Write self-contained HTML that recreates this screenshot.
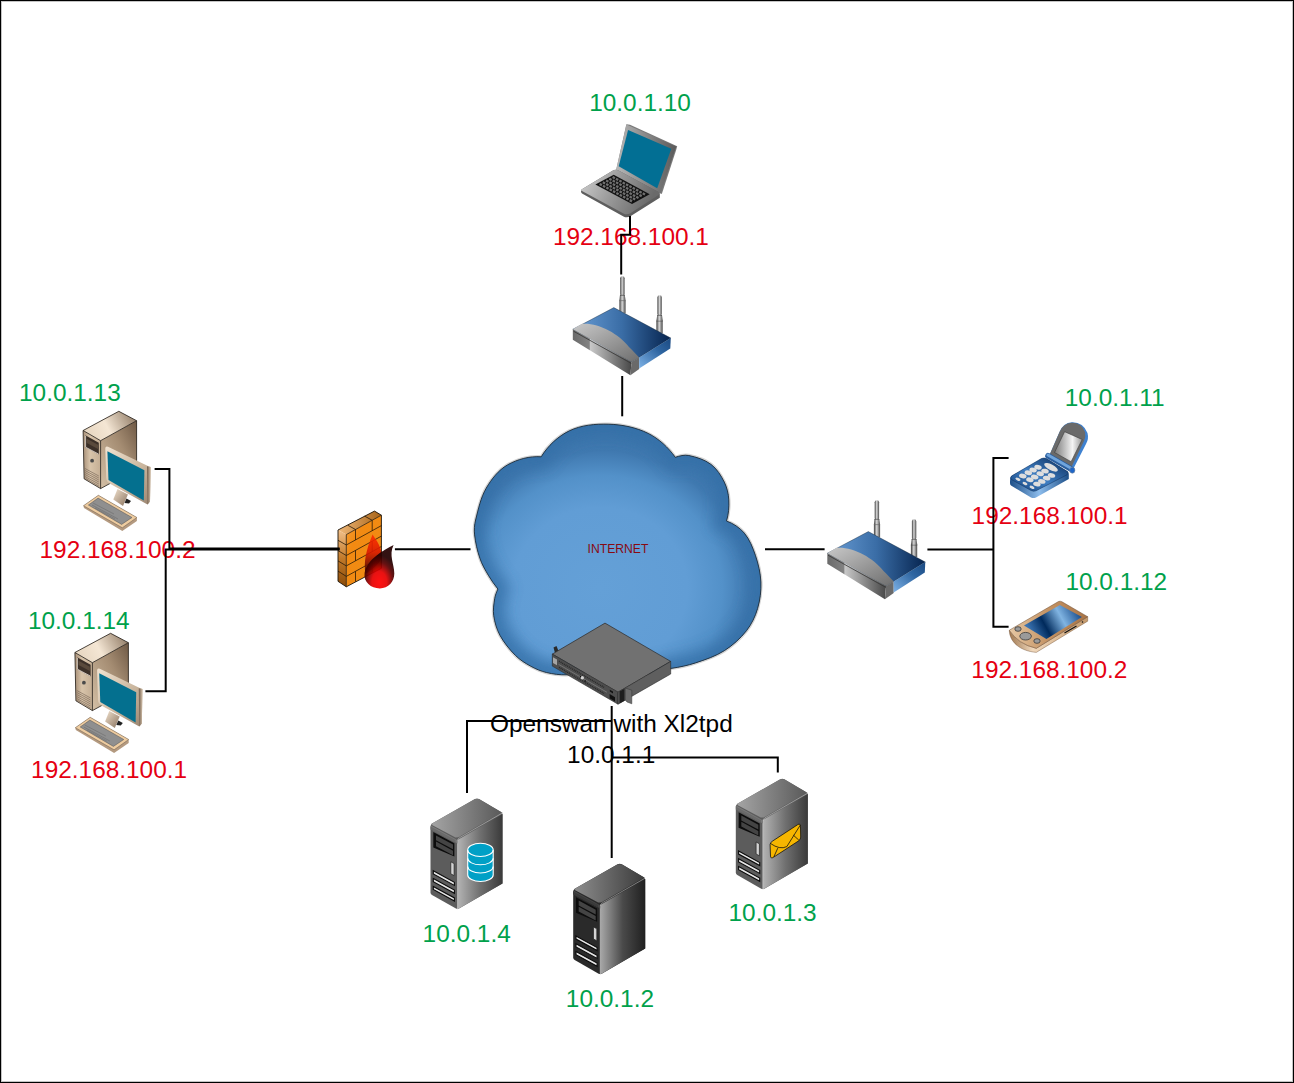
<!DOCTYPE html>
<html><head><meta charset="utf-8">
<style>
html,body{margin:0;padding:0;background:#fff;}
body{width:1294px;height:1083px;overflow:hidden;position:relative;}
#frame{position:absolute;left:0;top:0;width:1294px;height:1083px;box-sizing:border-box;border:1px solid #000;box-shadow:inset 0 0 0 1px #c4c4c4;}
svg{position:absolute;left:0;top:0;}
text{font-family:"Liberation Sans",sans-serif;}
.g{fill:#00a14b;font-size:24.4px;}
.r{fill:#e50012;font-size:24.4px;}
.k{fill:#000;font-size:24.4px;}
</style></head><body>
<svg width="1294" height="1083" viewBox="0 0 1294 1083">
<defs>
<clipPath id="cloudclip"><path d="M541.2,456.8 C547.8,445.9 557.9,436.4 569.4,430.8 C581.4,425.0 595.5,423.8 608.8,424.2 C622.3,424.6 636.1,427.4 648.2,433.4 C659.0,438.8 668.3,447.5 675.3,457.3 C679.6,455.9 684.3,454.6 688.8,455.5 C696.6,457.1 704.6,459.6 711.0,464.4 C716.9,468.8 721.0,475.5 724.3,482.1 C727.0,487.6 728.5,493.8 728.8,499.9 C729.2,507.0 728.6,514.2 726.5,521.0 C733.2,523.5 739.7,527.6 744.3,533.1 C749.6,539.4 752.7,547.5 755.4,555.3 C758.3,563.9 760.5,572.9 760.9,582.0 C761.3,590.9 760.1,600.0 757.6,608.5 C755.3,616.4 751.6,624.2 746.5,630.7 C740.3,638.5 732.7,645.4 724.3,650.7 C715.5,656.3 705.4,659.6 695.5,662.9 C687.6,665.5 679.4,667.2 671.1,668.4 C661.0,671.7 650.5,673.9 640.0,675.0 C630.1,676.1 620.0,675.8 610.0,675.0 C602.6,674.4 595.2,672.9 588.0,671.0 C581.1,673.3 573.8,674.5 566.5,674.8 C559.8,675.0 553.0,674.1 546.4,672.5 C541.0,671.2 535.8,669.0 530.9,666.3 C525.4,663.3 519.9,659.9 515.5,655.5 C509.5,649.5 504.1,642.8 500.0,635.4 C496.7,629.3 494.7,622.5 493.7,615.6 C492.9,610.0 493.8,604.2 494.7,598.6 C495.2,595.3 496.5,592.1 497.9,589.0 C494.4,584.6 491.1,580.0 488.3,575.2 C485.1,569.8 481.9,564.3 479.9,558.3 C477.3,550.7 475.5,542.8 474.6,534.9 C474.0,530.0 474.4,524.8 475.6,520.0 C478.3,509.2 480.6,497.9 486.2,488.2 C491.5,479.1 498.4,470.1 507.5,464.9 C517.5,459.2 529.7,455.9 541.2,456.8 Z"/></clipPath>
<filter id="blur12" x="-20%" y="-20%" width="140%" height="140%"><feGaussianBlur stdDeviation="7"/></filter>
</defs>
<!-- cloud -->
<g>
<defs>
<radialGradient id="cloudbase" gradientUnits="userSpaceOnUse" cx="600" cy="588" r="175" gradientTransform="translate(600 588) scale(1 0.92) translate(-600 -588)">
<stop offset="0" stop-color="#64a0d7"/><stop offset="0.5" stop-color="#619dd5"/><stop offset="0.7" stop-color="#5391c9"/><stop offset="0.85" stop-color="#4079b0"/><stop offset="1" stop-color="#3a74aa"/>
</radialGradient>
</defs>
<path d="M541.2,456.8 C547.8,445.9 557.9,436.4 569.4,430.8 C581.4,425.0 595.5,423.8 608.8,424.2 C622.3,424.6 636.1,427.4 648.2,433.4 C659.0,438.8 668.3,447.5 675.3,457.3 C679.6,455.9 684.3,454.6 688.8,455.5 C696.6,457.1 704.6,459.6 711.0,464.4 C716.9,468.8 721.0,475.5 724.3,482.1 C727.0,487.6 728.5,493.8 728.8,499.9 C729.2,507.0 728.6,514.2 726.5,521.0 C733.2,523.5 739.7,527.6 744.3,533.1 C749.6,539.4 752.7,547.5 755.4,555.3 C758.3,563.9 760.5,572.9 760.9,582.0 C761.3,590.9 760.1,600.0 757.6,608.5 C755.3,616.4 751.6,624.2 746.5,630.7 C740.3,638.5 732.7,645.4 724.3,650.7 C715.5,656.3 705.4,659.6 695.5,662.9 C687.6,665.5 679.4,667.2 671.1,668.4 C661.0,671.7 650.5,673.9 640.0,675.0 C630.1,676.1 620.0,675.8 610.0,675.0 C602.6,674.4 595.2,672.9 588.0,671.0 C581.1,673.3 573.8,674.5 566.5,674.8 C559.8,675.0 553.0,674.1 546.4,672.5 C541.0,671.2 535.8,669.0 530.9,666.3 C525.4,663.3 519.9,659.9 515.5,655.5 C509.5,649.5 504.1,642.8 500.0,635.4 C496.7,629.3 494.7,622.5 493.7,615.6 C492.9,610.0 493.8,604.2 494.7,598.6 C495.2,595.3 496.5,592.1 497.9,589.0 C494.4,584.6 491.1,580.0 488.3,575.2 C485.1,569.8 481.9,564.3 479.9,558.3 C477.3,550.7 475.5,542.8 474.6,534.9 C474.0,530.0 474.4,524.8 475.6,520.0 C478.3,509.2 480.6,497.9 486.2,488.2 C491.5,479.1 498.4,470.1 507.5,464.9 C517.5,459.2 529.7,455.9 541.2,456.8 Z" fill="none" stroke="#d4d4d4" stroke-width="3.4"/>
<path d="M541.2,456.8 C547.8,445.9 557.9,436.4 569.4,430.8 C581.4,425.0 595.5,423.8 608.8,424.2 C622.3,424.6 636.1,427.4 648.2,433.4 C659.0,438.8 668.3,447.5 675.3,457.3 C679.6,455.9 684.3,454.6 688.8,455.5 C696.6,457.1 704.6,459.6 711.0,464.4 C716.9,468.8 721.0,475.5 724.3,482.1 C727.0,487.6 728.5,493.8 728.8,499.9 C729.2,507.0 728.6,514.2 726.5,521.0 C733.2,523.5 739.7,527.6 744.3,533.1 C749.6,539.4 752.7,547.5 755.4,555.3 C758.3,563.9 760.5,572.9 760.9,582.0 C761.3,590.9 760.1,600.0 757.6,608.5 C755.3,616.4 751.6,624.2 746.5,630.7 C740.3,638.5 732.7,645.4 724.3,650.7 C715.5,656.3 705.4,659.6 695.5,662.9 C687.6,665.5 679.4,667.2 671.1,668.4 C661.0,671.7 650.5,673.9 640.0,675.0 C630.1,676.1 620.0,675.8 610.0,675.0 C602.6,674.4 595.2,672.9 588.0,671.0 C581.1,673.3 573.8,674.5 566.5,674.8 C559.8,675.0 553.0,674.1 546.4,672.5 C541.0,671.2 535.8,669.0 530.9,666.3 C525.4,663.3 519.9,659.9 515.5,655.5 C509.5,649.5 504.1,642.8 500.0,635.4 C496.7,629.3 494.7,622.5 493.7,615.6 C492.9,610.0 493.8,604.2 494.7,598.6 C495.2,595.3 496.5,592.1 497.9,589.0 C494.4,584.6 491.1,580.0 488.3,575.2 C485.1,569.8 481.9,564.3 479.9,558.3 C477.3,550.7 475.5,542.8 474.6,534.9 C474.0,530.0 474.4,524.8 475.6,520.0 C478.3,509.2 480.6,497.9 486.2,488.2 C491.5,479.1 498.4,470.1 507.5,464.9 C517.5,459.2 529.7,455.9 541.2,456.8 Z" fill="url(#cloudbase)"/>
<g clip-path="url(#cloudclip)">
<path d="M541.2,456.8 C547.8,445.9 557.9,436.4 569.4,430.8 C581.4,425.0 595.5,423.8 608.8,424.2 C622.3,424.6 636.1,427.4 648.2,433.4 C659.0,438.8 668.3,447.5 675.3,457.3 C679.6,455.9 684.3,454.6 688.8,455.5 C696.6,457.1 704.6,459.6 711.0,464.4 C716.9,468.8 721.0,475.5 724.3,482.1 C727.0,487.6 728.5,493.8 728.8,499.9 C729.2,507.0 728.6,514.2 726.5,521.0 C733.2,523.5 739.7,527.6 744.3,533.1 C749.6,539.4 752.7,547.5 755.4,555.3 C758.3,563.9 760.5,572.9 760.9,582.0 C761.3,590.9 760.1,600.0 757.6,608.5 C755.3,616.4 751.6,624.2 746.5,630.7 C740.3,638.5 732.7,645.4 724.3,650.7 C715.5,656.3 705.4,659.6 695.5,662.9 C687.6,665.5 679.4,667.2 671.1,668.4 C661.0,671.7 650.5,673.9 640.0,675.0 C630.1,676.1 620.0,675.8 610.0,675.0 C602.6,674.4 595.2,672.9 588.0,671.0 C581.1,673.3 573.8,674.5 566.5,674.8 C559.8,675.0 553.0,674.1 546.4,672.5 C541.0,671.2 535.8,669.0 530.9,666.3 C525.4,663.3 519.9,659.9 515.5,655.5 C509.5,649.5 504.1,642.8 500.0,635.4 C496.7,629.3 494.7,622.5 493.7,615.6 C492.9,610.0 493.8,604.2 494.7,598.6 C495.2,595.3 496.5,592.1 497.9,589.0 C494.4,584.6 491.1,580.0 488.3,575.2 C485.1,569.8 481.9,564.3 479.9,558.3 C477.3,550.7 475.5,542.8 474.6,534.9 C474.0,530.0 474.4,524.8 475.6,520.0 C478.3,509.2 480.6,497.9 486.2,488.2 C491.5,479.1 498.4,470.1 507.5,464.9 C517.5,459.2 529.7,455.9 541.2,456.8 Z" fill="none" stroke="#3570a7" stroke-width="22" filter="url(#blur12)" opacity="0.8"/>
</g>
<path d="M541.2,456.8 C547.8,445.9 557.9,436.4 569.4,430.8 C581.4,425.0 595.5,423.8 608.8,424.2 C622.3,424.6 636.1,427.4 648.2,433.4 C659.0,438.8 668.3,447.5 675.3,457.3 C679.6,455.9 684.3,454.6 688.8,455.5 C696.6,457.1 704.6,459.6 711.0,464.4 C716.9,468.8 721.0,475.5 724.3,482.1 C727.0,487.6 728.5,493.8 728.8,499.9 C729.2,507.0 728.6,514.2 726.5,521.0 C733.2,523.5 739.7,527.6 744.3,533.1 C749.6,539.4 752.7,547.5 755.4,555.3 C758.3,563.9 760.5,572.9 760.9,582.0 C761.3,590.9 760.1,600.0 757.6,608.5 C755.3,616.4 751.6,624.2 746.5,630.7 C740.3,638.5 732.7,645.4 724.3,650.7 C715.5,656.3 705.4,659.6 695.5,662.9 C687.6,665.5 679.4,667.2 671.1,668.4 C661.0,671.7 650.5,673.9 640.0,675.0 C630.1,676.1 620.0,675.8 610.0,675.0 C602.6,674.4 595.2,672.9 588.0,671.0 C581.1,673.3 573.8,674.5 566.5,674.8 C559.8,675.0 553.0,674.1 546.4,672.5 C541.0,671.2 535.8,669.0 530.9,666.3 C525.4,663.3 519.9,659.9 515.5,655.5 C509.5,649.5 504.1,642.8 500.0,635.4 C496.7,629.3 494.7,622.5 493.7,615.6 C492.9,610.0 493.8,604.2 494.7,598.6 C495.2,595.3 496.5,592.1 497.9,589.0 C494.4,584.6 491.1,580.0 488.3,575.2 C485.1,569.8 481.9,564.3 479.9,558.3 C477.3,550.7 475.5,542.8 474.6,534.9 C474.0,530.0 474.4,524.8 475.6,520.0 C478.3,509.2 480.6,497.9 486.2,488.2 C491.5,479.1 498.4,470.1 507.5,464.9 C517.5,459.2 529.7,455.9 541.2,456.8 Z" fill="none" stroke="#1d2b38" stroke-width="0.9"/>
</g>
<text x="587.5" y="553" style="font-size:12.2px;fill:#880a12">INTERNET</text>
<g id="icons">
<g id="laptop">
<defs>
<linearGradient id="lbase" x1="0" y1="0" x2="1" y2="0.3">
<stop offset="0" stop-color="#d2d2d2"/><stop offset="0.5" stop-color="#9a9a9a"/><stop offset="1" stop-color="#6a6a6a"/>
</linearGradient>
<linearGradient id="llid" x1="0" y1="0" x2="1" y2="0">
<stop offset="0" stop-color="#b8b8b8"/><stop offset="1" stop-color="#5a5a5a"/>
</linearGradient>
</defs>
<!-- lid back/edge -->
<polygon points="626.4,124.2 630,124.8 677.2,146.2 676.3,149.5 661.8,194 615.9,171" fill="#7a7a7a"/>
<polygon points="626.4,124.4 676.3,146.5 660.6,193.5 615.9,171" fill="url(#llid)"/>
<polygon points="628.1,129.9 671.3,148.8 657.2,188.2 618.7,166.3" fill="#026f94"/>
<!-- base -->
<path d="M581.5,189.6 L612.5,170.8 Q615.5,169 618.5,170.6 L658.5,192 Q660.5,193.5 659.8,195.5 L659.8,197.8 L630,216.6 Q626.5,218 623.5,216.4 L582,193.5 Q580.3,192 581.5,189.6 Z" fill="#5e5e5e"/>
<path d="M581.5,189.6 L612.5,170.8 Q615.5,169 618.5,170.6 L658.5,192 Q660.5,193.5 658.5,195 L630,213.6 Q626.5,215 623.5,213.4 L582,191 Q580.3,190.5 581.5,189.6 Z" fill="url(#lbase)"/>
<polygon points="595.4,184.4 613.7,174.8 649.7,194.2 632,204.1" fill="#111"/>
<g stroke="#707070" stroke-width="2.3" stroke-dasharray="2.6 1.2"><line x1="599.6" y1="183.9" x2="632.8" y2="201.8"/><line x1="602.8" y1="182.2" x2="636.0" y2="200.0"/><line x1="606.1" y1="180.5" x2="639.2" y2="198.3"/><line x1="609.3" y1="178.7" x2="642.4" y2="196.5"/><line x1="612.6" y1="177.0" x2="645.6" y2="194.8"/></g>
</g>

<g id="router">
<defs>
<linearGradient id="antg" x1="0" x2="1" y1="0" y2="0">
<stop offset="0" stop-color="#3c3c3c"/><stop offset="0.45" stop-color="#d8d8d8"/><stop offset="1" stop-color="#4a4a4a"/>
</linearGradient>
<linearGradient id="rtop" x1="0" y1="0" x2="1" y2="0" gradientUnits="objectBoundingBox">
<stop offset="0" stop-color="#6a9ed6"/><stop offset="0.5" stop-color="#3a6da6"/><stop offset="1" stop-color="#06244f"/>
</linearGradient>
<linearGradient id="rright" x1="0" y1="1" x2="1" y2="0">
<stop offset="0" stop-color="#7eb2e6"/><stop offset="0.6" stop-color="#2f66a2"/><stop offset="1" stop-color="#1b4a82"/>
</linearGradient>
<linearGradient id="rgrey" x1="0" y1="0" x2="1" y2="1">
<stop offset="0" stop-color="#c8c8c8"/><stop offset="1" stop-color="#6e6e6e"/>
</linearGradient>
<linearGradient id="rfront" x1="0" y1="0" x2="1" y2="0">
<stop offset="0" stop-color="#6a6a6a"/><stop offset="0.28" stop-color="#828282"/><stop offset="0.3" stop-color="#c8c8c8"/><stop offset="1" stop-color="#484848"/>
</linearGradient>
</defs>
<!-- antennas -->
<rect x="620.2" y="276.2" width="4.4" height="20" rx="2.1" fill="url(#antg)"/>
<polygon points="620,295 624.8,295 625.6,300.4 619.4,300.4" fill="url(#antg)"/>
<rect x="619.4" y="300.4" width="6.2" height="13" fill="url(#antg)"/>
<line x1="620" y1="295.3" x2="624.8" y2="295.3" stroke="#333" stroke-width="0.6"/>
<line x1="619.4" y1="300.6" x2="625.6" y2="300.6" stroke="#444" stroke-width="0.5"/>
<rect x="657.4" y="295.3" width="4.4" height="20.5" rx="2.1" fill="url(#antg)"/>
<polygon points="657.2,315 662,315 662.8,321 656.4,321" fill="url(#antg)"/>
<rect x="656.4" y="321" width="6.3" height="12" fill="url(#antg)"/>
<line x1="657.2" y1="315.3" x2="662" y2="315.3" stroke="#333" stroke-width="0.6"/>
<line x1="656.4" y1="321.2" x2="662.8" y2="321.2" stroke="#444" stroke-width="0.5"/>
<!-- body -->
<polygon points="572.8,329.3 613.8,307.6 670.8,338.1 639.2,357.5 631.5,361.9" fill="url(#rtop)" stroke="#1a2a3a" stroke-width="0.4"/>
<path d="M572.8,329.3 L582,323.8 C598,322.5 618,333 629,347 C633,351 636,354 639.2,357.5 L631.5,361.9 Z" fill="url(#rgrey)"/>
<polygon points="572.8,329.3 631.5,361.9 630.4,375.2 572.8,339.8" fill="url(#rfront)"/>
<polyline points="573.5,331.2 631.5,363.5" fill="none" stroke="#333" stroke-width="0.8"/>
<polygon points="631.5,361.9 639.2,357.5 639.2,369.1 630.4,375.2" fill="#6a6a6a"/>
<polygon points="639.2,357.5 670.8,338.1 670.3,348.6 639.2,368.5" fill="url(#rright)"/>
</g>

<use href="#router" transform="translate(254.5,224)"/>
<g id="firewall">
<defs>
<linearGradient id="fwfront" x1="0" y1="0" x2="1" y2="1">
<stop offset="0" stop-color="#f6a23c"/><stop offset="0.3" stop-color="#f28a12"/><stop offset="1" stop-color="#f08c14"/>
</linearGradient>
<linearGradient id="fwside" x1="0" y1="0" x2="0" y2="1">
<stop offset="0" stop-color="#f2c089"/><stop offset="0.5" stop-color="#c27a2a"/><stop offset="1" stop-color="#8a4a08"/>
</linearGradient>
<linearGradient id="fwtop" x1="0" y1="0" x2="1" y2="0">
<stop offset="0" stop-color="#f0b878"/><stop offset="1" stop-color="#a86418"/>
</linearGradient>
<radialGradient id="flame1" cx="0.5" cy="0.86" r="0.62">
<stop offset="0" stop-color="#ff0000"/><stop offset="0.4" stop-color="#e60000"/><stop offset="0.75" stop-color="#5a0000"/><stop offset="1" stop-color="#240000"/>
</radialGradient>
<linearGradient id="flame2" x1="0" y1="0" x2="0" y2="1">
<stop offset="0" stop-color="#ff2a00"/><stop offset="0.45" stop-color="#d81800"/><stop offset="1" stop-color="#2a0800"/>
</linearGradient>
</defs>
<polygon points="338,530 346.3,534.6 346.3,586.8 338,581.3" fill="url(#fwside)"/>
<polygon points="338,530 374.5,511.1 381.4,515.2 346.3,534.6" fill="url(#fwtop)"/>
<polygon points="346.3,534.6 381.4,515.2 381.4,568.3 346.3,586.8" fill="url(#fwfront)"/>
<g stroke="#2a1a08" stroke-width="0.8" fill="none">
<polyline points="338,540.3 346.3,545.0 381.4,525.6"/>
<polyline points="338,550.6 346.3,555.5 381.4,536.1"/>
<polyline points="338,560.9 346.3,565.9 381.4,546.5"/>
<polyline points="338,571.1 346.3,576.4 381.4,557.0"/>
<line x1="355.5" y1="529.5" x2="355.5" y2="540.0"/>
<line x1="372.2" y1="520.3" x2="372.2" y2="530.7"/>
<line x1="355.5" y1="550.4" x2="355.5" y2="560.8"/>
<line x1="372.2" y1="541.2" x2="372.2" y2="551.6"/>
<line x1="355.5" y1="571.3" x2="355.5" y2="581.7"/>
<line x1="372.2" y1="562.0" x2="372.2" y2="572.5"/>
<line x1="355.5" y1="529.5" x2="347.9" y2="525.3"/>
<line x1="372.2" y1="520.3" x2="364.6" y2="516.1"/>
<polygon points="338,530 374.5,511.1 381.4,515.2 381.4,568.3 346.3,586.8 338,581.3" stroke="#1a1208" stroke-width="0.9"/>
<line x1="346.3" y1="534.6" x2="346.3" y2="586.8"/><line x1="346.3" y1="534.6" x2="381.4" y2="515.2"/>
</g>
<path d="M372.6,534.5 C376,540 382,547 381.5,556 C381,563 374,568 365.5,574 C363.5,562 366,550 372.6,534.5 Z" fill="url(#flame2)" opacity="0.88"/>
<path d="M393.6,545 C384,550 367,559 364.6,573 C363.3,582 371,588.4 379.8,588.4 C388.5,588.4 394.3,581.5 394.3,573.5 C394.3,564 388.5,555 393.6,545 Z" fill="url(#flame1)" opacity="0.93"/>
</g>
<g id="pc">
<defs>
<linearGradient id="pctop" x1="0" y1="0.3" x2="1" y2="0">
<stop offset="0" stop-color="#e9d9c4"/><stop offset="0.35" stop-color="#f4e6d4"/><stop offset="1" stop-color="#86705a"/>
</linearGradient>
<linearGradient id="pcright" x1="0" y1="1" x2="1" y2="0">
<stop offset="0" stop-color="#d4c0a6"/><stop offset="0.6" stop-color="#a48c72"/><stop offset="1" stop-color="#6e5844"/>
</linearGradient>
<linearGradient id="pcfront" x1="0" y1="0" x2="1" y2="0">
<stop offset="0" stop-color="#a89078"/><stop offset="0.4" stop-color="#d8c4aa"/><stop offset="1" stop-color="#c4ae94"/>
</linearGradient>
<linearGradient id="mframe" x1="0" y1="0" x2="1" y2="1">
<stop offset="0" stop-color="#f2e4d2"/><stop offset="0.6" stop-color="#c8b49c"/><stop offset="1" stop-color="#9a8470"/>
</linearGradient>
<linearGradient id="mside" x1="0" y1="0" x2="1" y2="0">
<stop offset="0" stop-color="#6e5a48"/><stop offset="1" stop-color="#d8c6b0"/>
</linearGradient>
<linearGradient id="mstand" x1="0" y1="0" x2="1" y2="1">
<stop offset="0" stop-color="#f0e0cc"/><stop offset="1" stop-color="#8a7460"/>
</linearGradient>
</defs>
<!-- tower -->
<polygon points="100.6,440.7 136.6,420.7 136.6,469 100.6,488.6" fill="url(#pcright)"/>
<polygon points="83.1,430.5 100.6,440.7 100.6,488.6 84.1,478.8" fill="url(#pcfront)"/>
<polygon points="118.8,411.3 136.6,420.7 100.6,440.7 83.1,430.5" fill="url(#pctop)"/>
<g fill="none" stroke="#1e1812" stroke-width="0.8">
<polygon points="118.8,411.3 136.6,420.7 136.6,469 100.6,488.6 84.1,478.8 83.1,430.5"/>
<polyline points="83.1,430.5 100.6,440.7 136.6,420.7"/>
<line x1="100.6" y1="440.7" x2="100.6" y2="488.6"/>
</g>
<polygon points="85.3,435.3 98.8,442.7 98.8,454.5 85.3,447.2" fill="#3c3028"/>
<polygon points="86.8,438.8 98,444.8 98,449 86.8,443" fill="#5a4a3c"/>
<polyline points="85.6,435.8 85.6,447.2 98.5,454" fill="none" stroke="#e8e0d8" stroke-width="0.8"/>
<circle cx="92.1" cy="460.7" r="1.9" fill="#4a4a4a"/>
<g stroke="#6e5e50" stroke-width="0.6">
<line x1="85" y1="468.5" x2="98.8" y2="476"/><line x1="85" y1="470.5" x2="98.8" y2="478"/><line x1="85" y1="472.5" x2="98.8" y2="480"/>
<line x1="85" y1="474.5" x2="98.8" y2="482"/><line x1="85" y1="476.5" x2="98.8" y2="484"/><line x1="85.5" y1="478.3" x2="98.8" y2="486"/>
</g>
<!-- stand -->
<polygon points="117.5,489.1 127.9,494.6 123,506 113.3,499.5" fill="url(#mstand)"/>
<polygon points="126.5,498.5 131,501 129,503.5 124.5,503" fill="#222"/>
<!-- monitor -->
<path d="M105.3,448.5 Q105.3,445.8 108,446.8 L149,466.5 L150.7,467 L150,501.6 L147.5,504.5 L110,483.8 Q106.3,481.5 106.2,478 Z" fill="url(#mframe)"/>
<polygon points="147,466.2 150.7,467 150,501.6 147.5,504.5" fill="url(#mside)"/>
<polygon points="107.4,451.3 144.4,470.2 143.8,500.6 108.5,480.1" fill="#04708f"/>
<!-- keyboard -->
<polygon points="83.5,505.7 98.4,495.3 136.9,517.5 136.9,521 122.3,531 84,508" fill="#b49a80"/>
<polygon points="83.5,505.7 98.4,495.3 136.9,517.5 122.3,527.8" fill="#eecca0" stroke="#6a5a4a" stroke-width="0.5"/>
<polygon points="88.4,505 98.1,498.1 132,517.5 121.6,524.4" fill="#8f8f8f" stroke="#555" stroke-width="0.5"/>
<g stroke="#666" stroke-width="0.5"><line x1="93" y1="503" x2="114" y2="514"/><line x1="92" y1="505" x2="118" y2="519"/><line x1="95" y1="508" x2="115" y2="519"/></g>
</g>

<use href="#pc" transform="translate(-8.2,222)"/>
<g id="rack">
<polygon points="553.5,647.5 556.5,646 558.5,651 555,653" fill="#2a2a2a"/>
<polygon points="605,623.1 670.7,661.4 618,692.2 552.3,654.1" fill="#717171" stroke="#2a2a2a" stroke-width="0.7"/>
<polygon points="552.3,654.1 618,692.2 618,704.2 552.3,666.1" fill="#4e4e4e" stroke="#2a2a2a" stroke-width="0.6"/>
<polygon points="618,692.2 670.7,661.4 670.7,674 618,704.2" fill="#5f5f5f" stroke="#2a2a2a" stroke-width="0.6"/>
<g stroke="#2a2a2a" stroke-width="1.5" stroke-dasharray="1 0.9">
<line x1="559" y1="661.2" x2="604" y2="687.3"/>
<line x1="559" y1="667.3" x2="604" y2="693.4"/>
</g>
<line x1="558.5" y1="664.3" x2="607" y2="692.3" stroke="#8c8c8c" stroke-width="0.6"/>
<polygon points="553,657.3 557,659.6 557,665.3 553,663" fill="#a4a4a4"/>
<circle cx="582.3" cy="677.7" r="1.7" fill="#d4d4d4"/>
<circle cx="580.5" cy="676.8" r="0.7" fill="#000"/><circle cx="585.2" cy="681" r="0.7" fill="#000"/>
<polygon points="609.8,689.8 613,691.6 613,693.4 609.8,691.6" fill="#111"/>
<polygon points="609.6,694 615,697.2 615,701.5 609.6,698.3" fill="#111"/>
<polygon points="619.5,691.6 624.5,688.8 624.5,700.8 619.5,703.6" fill="#1e1e1e"/>
<polygon points="625.2,688 631.8,690.2 631.8,703.8 627,702 625.2,700" fill="#6c6c6c" stroke="#333" stroke-width="0.5"/>
</g>

<g id="twdb" transform="translate(430.5,824.4)">
<defs>
<linearGradient id="twdbtop" x1="0" y1="0" x2="1" y2="0"><stop offset="0" stop-color="#a4a4a4"/><stop offset="1" stop-color="#5a5a5a"/></linearGradient>
<linearGradient id="twdbright" x1="0" y1="0" x2="1" y2="0"><stop offset="0" stop-color="#b4b4b4"/><stop offset="0.5" stop-color="#707070"/><stop offset="1" stop-color="#3a3a3a"/></linearGradient>
</defs>
<path d="M0,2 Q0,0 2,-1.2 L44.5,-25.3 Q46.5,-26.3 48.5,-25.3 L71,-12.2 Q72,-11.5 72,-10 L72,59 L29,83.8 Q27,84.8 25,83.8 L1.5,70.5 Q0,69.6 0,68 Z" fill="#5c5c5c"/>
<polygon points="2,-1.2 44.5,-25.3 48.5,-25.3 71,-12.2 28,12.8 25,13 1.5,0.5" fill="url(#twdbtop)"/>
<polygon points="27,15.5 72,-10.5 72,59 27,84.8" fill="url(#twdbright)"/>
<path d="M27,85 L27,17 Q27,14.5 29,13.3 L72,-11.5" fill="none" stroke="#dcdcdc" stroke-width="0.6" opacity="0.8"/>
<polygon points="0.5,1 25,14.6 27,16 27,19 0.5,4.5" fill="#7a7a7a"/>
<polygon points="0,2 25,15.5 25,18 0,5" fill="#6a6a6a"/>
<polygon points="2.8,7.7 23.9,18.8 23.9,32.1 2.8,23.2" fill="#0c0c0c"/>
<polygon points="5.5,11 22.5,20.2 22.5,24.8 5.5,15.8" fill="#444"/>
<polygon points="5.5,17.2 22.5,26.4 22.5,30.8 5.5,21.8" fill="#444"/>
<polygon points="20.3,37.4 23.6,39.2 23.6,51.2 20.3,49.4" fill="#d4d4d4" stroke="#222" stroke-width="0.7"/>
<g fill="#e6e6e6" stroke="#0a0a0a" stroke-width="1.1">
<polygon points="2.8,46.4 23.9,57.9 23.9,61 2.8,49.5"/>
<polygon points="2.8,54.2 23.9,65.7 23.9,68.8 2.8,57.3"/>
<polygon points="2.8,62 23.9,73.5 23.9,76.6 2.8,65.1"/>
</g>
<g>
<path d="M37.2,25.5 L37.2,50.5 A12.75,6.6 0 0 0 62.7,50.5 L62.7,25.5 A12.75,6.6 0 0 0 37.2,25.5 Z" fill="#00a0c6" stroke="#fff" stroke-width="1.1"/>
<path d="M37.2,25.5 A12.75,6.6 0 0 0 62.7,25.5" fill="none" stroke="#fff" stroke-width="1.1"/>
<path d="M37.2,33.8 A12.75,6.6 0 0 0 62.7,33.8" fill="none" stroke="#fff" stroke-width="1.1"/>
<path d="M37.2,42 A12.75,6.6 0 0 0 62.7,42" fill="none" stroke="#fff" stroke-width="1.1"/>
</g>
</g>
<g id="twmid" transform="translate(573.2,889.6)">
<defs>
<linearGradient id="twmidtop" x1="0" y1="0" x2="1" y2="0"><stop offset="0" stop-color="#8c8c8c"/><stop offset="1" stop-color="#3c3c3c"/></linearGradient>
<linearGradient id="twmidright" x1="0" y1="0" x2="1" y2="0"><stop offset="0" stop-color="#a8a8a8"/><stop offset="0.5" stop-color="#4a4a4a"/><stop offset="1" stop-color="#202020"/></linearGradient>
</defs>
<path d="M0,2 Q0,0 2,-1.2 L44.5,-25.3 Q46.5,-26.3 48.5,-25.3 L71,-12.2 Q72,-11.5 72,-10 L72,59 L29,83.8 Q27,84.8 25,83.8 L1.5,70.5 Q0,69.6 0,68 Z" fill="#2a2a2a"/>
<polygon points="2,-1.2 44.5,-25.3 48.5,-25.3 71,-12.2 28,12.8 25,13 1.5,0.5" fill="url(#twmidtop)"/>
<polygon points="27,15.5 72,-10.5 72,59 27,84.8" fill="url(#twmidright)"/>
<path d="M27,85 L27,17 Q27,14.5 29,13.3 L72,-11.5" fill="none" stroke="#dcdcdc" stroke-width="0.6" opacity="0.8"/>
<polygon points="0.5,1 25,14.6 27,16 27,19 0.5,4.5" fill="#484848"/>
<polygon points="0,2 25,15.5 25,18 0,5" fill="#3a3a3a"/>
<polygon points="2.8,7.7 23.9,18.8 23.9,32.1 2.8,23.2" fill="#0c0c0c"/>
<polygon points="5.5,11 22.5,20.2 22.5,24.8 5.5,15.8" fill="#444"/>
<polygon points="5.5,17.2 22.5,26.4 22.5,30.8 5.5,21.8" fill="#444"/>
<polygon points="20.3,37.4 23.6,39.2 23.6,51.2 20.3,49.4" fill="#d4d4d4" stroke="#222" stroke-width="0.7"/>
<g fill="#e6e6e6" stroke="#0a0a0a" stroke-width="1.1">
<polygon points="2.8,46.4 23.9,57.9 23.9,61 2.8,49.5"/>
<polygon points="2.8,54.2 23.9,65.7 23.9,68.8 2.8,57.3"/>
<polygon points="2.8,62 23.9,73.5 23.9,76.6 2.8,65.1"/>
</g>

</g>
<g id="twmail" transform="translate(735.8,804.6)">
<defs>
<linearGradient id="twmailtop" x1="0" y1="0" x2="1" y2="0"><stop offset="0" stop-color="#a4a4a4"/><stop offset="1" stop-color="#5a5a5a"/></linearGradient>
<linearGradient id="twmailright" x1="0" y1="0" x2="1" y2="0"><stop offset="0" stop-color="#b4b4b4"/><stop offset="0.5" stop-color="#707070"/><stop offset="1" stop-color="#3a3a3a"/></linearGradient>
</defs>
<path d="M0,2 Q0,0 2,-1.2 L44.5,-25.3 Q46.5,-26.3 48.5,-25.3 L71,-12.2 Q72,-11.5 72,-10 L72,59 L29,83.8 Q27,84.8 25,83.8 L1.5,70.5 Q0,69.6 0,68 Z" fill="#5c5c5c"/>
<polygon points="2,-1.2 44.5,-25.3 48.5,-25.3 71,-12.2 28,12.8 25,13 1.5,0.5" fill="url(#twmailtop)"/>
<polygon points="27,15.5 72,-10.5 72,59 27,84.8" fill="url(#twmailright)"/>
<path d="M27,85 L27,17 Q27,14.5 29,13.3 L72,-11.5" fill="none" stroke="#dcdcdc" stroke-width="0.6" opacity="0.8"/>
<polygon points="0.5,1 25,14.6 27,16 27,19 0.5,4.5" fill="#7a7a7a"/>
<polygon points="0,2 25,15.5 25,18 0,5" fill="#6a6a6a"/>
<polygon points="2.8,7.7 23.9,18.8 23.9,32.1 2.8,23.2" fill="#0c0c0c"/>
<polygon points="5.5,11 22.5,20.2 22.5,24.8 5.5,15.8" fill="#444"/>
<polygon points="5.5,17.2 22.5,26.4 22.5,30.8 5.5,21.8" fill="#444"/>
<polygon points="20.3,37.4 23.6,39.2 23.6,51.2 20.3,49.4" fill="#d4d4d4" stroke="#222" stroke-width="0.7"/>
<g fill="#e6e6e6" stroke="#0a0a0a" stroke-width="1.1">
<polygon points="2.8,46.4 23.9,57.9 23.9,61 2.8,49.5"/>
<polygon points="2.8,54.2 23.9,65.7 23.9,68.8 2.8,57.3"/>
<polygon points="2.8,62 23.9,73.5 23.9,76.6 2.8,65.1"/>
</g>
<g>
<path d="M37,36.3 L62,20 Q64.6,18.6 64.7,21.5 L64.9,32.5 Q64.9,35 62.5,36.5 L37.5,52.8 Q34.8,54.3 34.7,51.5 L34.3,40 Q34.3,37.8 37,36.3 Z" fill="#f6b600" stroke="#111" stroke-width="0.8"/>
<path d="M34.6,38.8 Q44,45.5 51,42 L64.5,20.5" fill="none" stroke="#111" stroke-width="0.8"/>
<path d="M38,52.3 L42,43.5 M57.5,30.5 L63,35.5" fill="none" stroke="#111" stroke-width="0.8"/>
</g>
</g>
<g id="phone">
<defs>
<linearGradient id="phtop" x1="0" y1="1" x2="1" y2="0">
<stop offset="0" stop-color="#123f78"/><stop offset="0.45" stop-color="#3f7ec2"/><stop offset="1" stop-color="#0a2c5a"/>
</linearGradient>
<linearGradient id="phside" x1="0" y1="0" x2="1" y2="0">
<stop offset="0" stop-color="#1d4f88"/><stop offset="0.5" stop-color="#8cbcec"/><stop offset="1" stop-color="#1d4f88"/>
</linearGradient>
<linearGradient id="phscr" x1="0" y1="0" x2="1" y2="0">
<stop offset="0" stop-color="#7a7a7a"/><stop offset="0.65" stop-color="#f4f4f4"/><stop offset="1" stop-color="#9a9a9a"/>
</linearGradient>
<linearGradient id="phhinge" x1="0" y1="0" x2="0" y2="1">
<stop offset="0" stop-color="#7fb0e6"/><stop offset="1" stop-color="#2a62a8"/>
</linearGradient>
</defs>
<!-- lid -->
<path d="M1049.5,455 L1059.5,432 Q1063,423 1072,422.3 Q1083,422 1087.5,433 Q1089,439 1086,444 L1073.5,468.5 Z" fill="#3f82d0"/>
<path d="M1049.5,455 L1059.5,432 Q1063,423.5 1071.5,422.8 Q1081.5,422.5 1085,432 Q1086,437 1084,441 L1071.5,467 Z" fill="#6a6a6a"/>
<polygon points="1054.5,452.5 1064.6,431.7 1082.2,439.5 1071.1,461.7" fill="url(#phscr)" stroke="#3a3a3a" stroke-width="0.6"/>
<!-- base -->
<path d="M1011.5,476 L1041.5,458.5 Q1044,457.5 1046.5,458.5 L1067.5,471.5 Q1069,473 1068.8,475 L1068.8,479 L1036,497.5 Q1033.5,498.5 1031,497.5 L1011,485.5 Q1009.8,484.5 1010,482 L1010.2,478.5 Q1010.5,477 1011.5,476 Z" fill="url(#phside)"/>
<path d="M1011.5,476 L1041.5,458.5 Q1044,457.5 1046.5,458.5 L1067.5,471.5 Q1069,473 1067,474.8 L1036,490.8 Q1033.5,491.8 1031,490.5 L1011.5,479.5 Q1009.8,478 1011.5,476 Z" fill="url(#phtop)" stroke="#0d2f5a" stroke-width="0.5"/>
<g fill="#dedede">
<ellipse cx="1022.8" cy="476.0" rx="3.8" ry="2.3" transform="rotate(12 1022.8 476.0)"/><ellipse cx="1028.3" cy="472.7" rx="3.8" ry="2.3" transform="rotate(12 1028.3 472.7)"/><ellipse cx="1033.1" cy="470.0" rx="3.8" ry="2.3" transform="rotate(12 1033.1 470.0)"/><ellipse cx="1038.0" cy="467.3" rx="3.8" ry="2.3" transform="rotate(12 1038.0 467.3)"/><ellipse cx="1029.9" cy="479.7" rx="3.8" ry="2.3" transform="rotate(12 1029.9 479.7)"/><ellipse cx="1034.7" cy="477.0" rx="3.8" ry="2.3" transform="rotate(12 1034.7 477.0)"/><ellipse cx="1040.2" cy="473.8" rx="3.8" ry="2.3" transform="rotate(12 1040.2 473.8)"/><ellipse cx="1045.0" cy="471.1" rx="3.8" ry="2.3" transform="rotate(12 1045.0 471.1)"/><ellipse cx="1036.9" cy="484.1" rx="3.8" ry="2.3" transform="rotate(12 1036.9 484.1)"/><ellipse cx="1041.8" cy="481.4" rx="3.8" ry="2.3" transform="rotate(12 1041.8 481.4)"/><ellipse cx="1046.6" cy="478.1" rx="3.8" ry="2.3" transform="rotate(12 1046.6 478.1)"/><ellipse cx="1051.5" cy="475.4" rx="3.8" ry="2.3" transform="rotate(12 1051.5 475.4)"/>
<ellipse cx="1051" cy="467.3" rx="7.6" ry="2.8" transform="rotate(28 1051 467.3)"/><ellipse cx="1018.0" cy="479.2" rx="2.6" ry="1.4" transform="rotate(25 1018.0 479.2)"/><ellipse cx="1025.0" cy="483.5" rx="2.6" ry="1.4" transform="rotate(25 1025.0 483.5)"/><ellipse cx="1032.0" cy="487.3" rx="2.6" ry="1.4" transform="rotate(25 1032.0 487.3)"/>
</g>
<!-- hinge -->
<line x1="1048" y1="455.8" x2="1071.5" y2="469.3" stroke="#2a5e9e" stroke-width="5.6" stroke-linecap="round"/>
<line x1="1048" y1="455" x2="1071.5" y2="468.5" stroke="#6fa4dc" stroke-width="3" stroke-linecap="round"/>
<ellipse cx="1072.3" cy="470.2" rx="2.6" ry="3" fill="#1f66c8" stroke="#7a8a9a" stroke-width="0.6"/>
</g>
<g id="pda">
<defs>
<linearGradient id="pdascr" x1="0" y1="0" x2="1" y2="0" gradientUnits="userSpaceOnUse" gradientTransform="translate(1024 625) rotate(-30) translate(-1024 -625)">
</linearGradient>
<linearGradient id="pdascr2" gradientUnits="userSpaceOnUse" x1="1030" y1="630" x2="1075" y2="605">
<stop offset="0" stop-color="#3a72b0"/><stop offset="0.3" stop-color="#002a5c"/><stop offset="0.65" stop-color="#80b4e2"/><stop offset="1" stop-color="#1b4f8e"/>
</linearGradient>
<linearGradient id="pdafront" x1="0" y1="0" x2="1" y2="0">
<stop offset="0" stop-color="#a07850"/><stop offset="0.3" stop-color="#f0d8bc"/><stop offset="1" stop-color="#c49a6c"/>
</linearGradient>
<linearGradient id="pdatop" x1="0" y1="0" x2="1" y2="0">
<stop offset="0" stop-color="#e6c8a4"/><stop offset="0.5" stop-color="#c49262"/><stop offset="1" stop-color="#a87446"/>
</linearGradient>
</defs>
<path d="M1009.3,630.2 C1009.5,642 1020,651 1036.3,652.4 L1087.7,621.2 L1087.7,616.7 L1036.3,648.3 Q1018,644 1009.3,630.2 Z" fill="url(#pdafront)" stroke="#6a4a30" stroke-width="0.4"/>
<path d="M1009.3,630.2 L1058.5,601.5 Q1060.3,600.8 1062,601.8 L1087.7,616.7 L1036.3,648.3 Q1018,644 1009.3,630.2 Z" fill="url(#pdatop)" stroke="#6a4a30" stroke-width="0.5"/>
<polygon points="1024,625.5 1059.9,605.1 1081.9,617 1046.4,639.1" fill="url(#pdascr2)"/>
<g fill="#9a9a9a" stroke="#3a3a3a" stroke-width="0.8">
<ellipse cx="1025.6" cy="636.2" rx="5.8" ry="3.8"/>
<ellipse cx="1018" cy="629" rx="3.2" ry="2.3"/>
<ellipse cx="1037" cy="641" rx="3.2" ry="2.3"/>
</g>
<line x1="1064.5" y1="633" x2="1076.5" y2="626" stroke="#111" stroke-width="1.2"/>
<circle cx="1082.5" cy="622" r="0.8" fill="#111"/>
</g>

</g>

<g id="labels">
<text class="g" x="589.20" y="110.75">10.0.1.10</text>
<text class="r" x="552.90" y="244.95">192.168.100.1</text>
<text class="g" x="19.00" y="400.55">10.0.1.13</text>
<text class="r" x="39.50" y="557.65">192.168.100.2</text>
<text class="g" x="27.95" y="629.35">10.0.1.14</text>
<text class="r" x="31.10" y="778.20">192.168.100.1</text>
<text class="g" x="1064.75" y="406.30">10.0.1.11</text>
<text class="r" x="971.60" y="524.00">192.168.100.1</text>
<text class="g" x="1065.45" y="589.95">10.0.1.12</text>
<text class="r" x="971.35" y="678.30">192.168.100.2</text>
<text class="k" x="490" y="731.8">Openswan with Xl2tpd</text>
<text class="k" x="567.1" y="762.6">10.0.1.1</text>
<text class="g" x="422.60" y="941.90">10.0.1.4</text>
<text class="g" x="565.85" y="1007.10">10.0.1.2</text>
<text class="g" x="728.50" y="921.15">10.0.1.3</text>
</g>
<g id="lines" fill="none" stroke="#000" stroke-width="2">
<path d="M630,216 V234.7 H621.2 V274.4"/>
<path d="M622.2,376 V416.3"/>
<path d="M394.9,549.2 H470.5"/>
<path d="M154.6,468.9 H169.4 V548.6 H339.7"/>
<path d="M145.4,691.2 H165.7 V549.6 H339.7"/>
<path d="M765,549.2 H824.6"/>
<path d="M927.4,549.6 H993.4 M1008.6,458 H993.4 V626.7 H1008.6"/>
<path d="M611.7,706 V858"/>
<path d="M611.7,721.1 H467 V793"/>
<path d="M611.7,757.6 H777.8 V772.5"/>
</g>
</svg>
<div id="frame"></div>
</body></html>
